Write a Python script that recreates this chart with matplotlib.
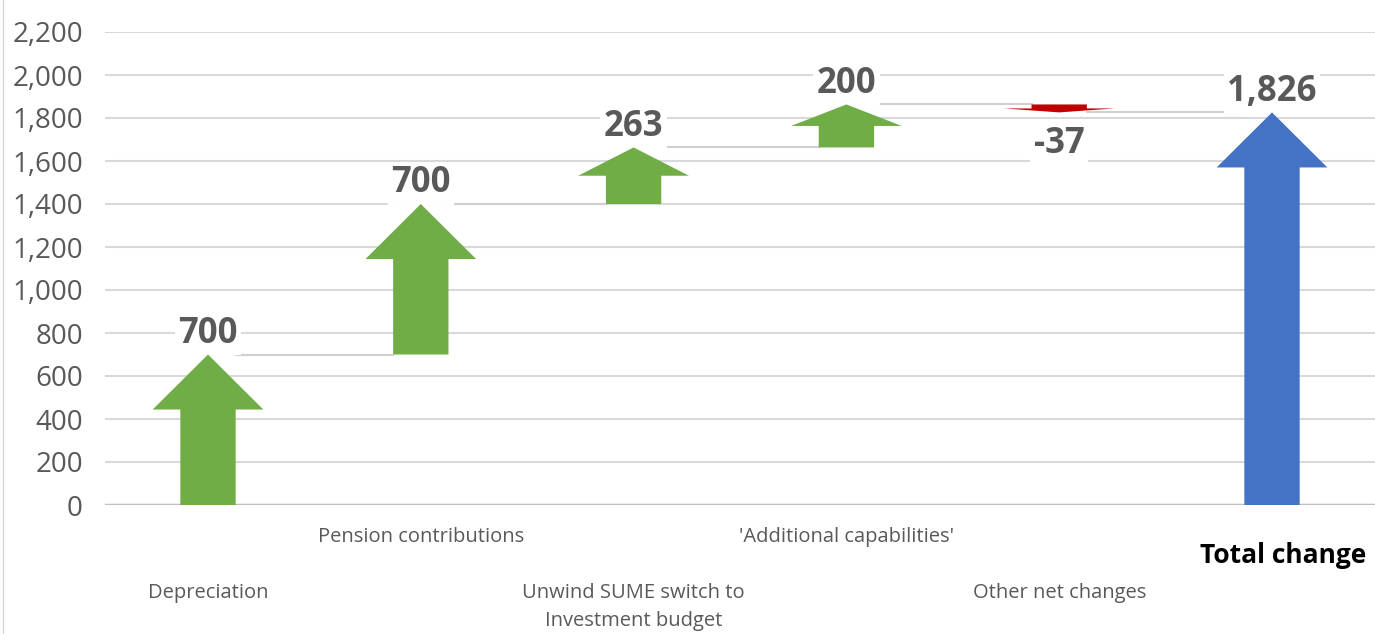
import matplotlib
matplotlib.use('Agg')
import matplotlib.pyplot as plt
from matplotlib.patches import FancyArrow
from matplotlib.lines import Line2D
import numpy as np

categories = ['Depreciation', 'Pension contributions',
              'Unwind SUME switch to\nInvestment budget',
              "'Additional capabilities'", 'Other net changes', 'Total change']
changes = [700, 700, 263, 200, -37]
total = 1826
value_labels = ['700', '700', '263', '200', '-37', '1,826']

plt.rcParams['font.family'] = ['Open Sans', 'DejaVu Sans']

green = '#70ad47'
red = '#c00000'
blue = '#4472c4'
grey_txt = '#595959'

fig = plt.figure(figsize=(13.75, 6.34), dpi=100)
ax = fig.add_axes([105 / 1375, 1 - 505 / 634, 1 - 105 / 1375, (505 - 32) / 634])

ax.set_xlim(-0.484, 5.484)
ax.set_ylim(0, 2200)
ax.set_yticks(np.arange(0, 2201, 200))
ax.set_yticklabels([f'{v:,}' for v in range(0, 2201, 200)])
ax.tick_params(axis='y', length=0, labelsize=20, labelcolor=grey_txt, pad=16)
ax.set_xticks([])
for s in ax.spines.values():
    s.set_visible(False)
ax.grid(axis='y', color='#d9d9d9', lw=1.5, zorder=0)
ax.set_axisbelow(True)
ax.axhline(0, color='#bfbfbf', lw=2.5, zorder=1)

shaft_w = 0.26
head_w = 0.52


def draw_arrow(x, start, end, color):
    length = end - start
    hl = min(256, abs(length) / 2)
    ax.add_patch(FancyArrow(x, start, 0, length, width=shaft_w, head_width=head_w,
                            head_length=hl, length_includes_head=True,
                            color=color, lw=0, zorder=3))


starts = np.concatenate([[0], np.cumsum(changes)[:-1]])
ends = np.cumsum(changes)
for i, (s, e) in enumerate(zip(starts, ends)):
    draw_arrow(i, s, e, green if e > s else red)
    # connector to next step
    ax.plot([i + shaft_w / 2, i + 1 - shaft_w / 2], [e, e], color='#d0d0d0', lw=1.5, zorder=2)
draw_arrow(5, 0, total, blue)

tips = list(ends) + [total]
for i, lab in enumerate(value_labels):
    if i < 5 and changes[i] < 0:
        y, off, va = tips[i], -10, 'top'
    else:
        y, off, va = tips[i], 2, 'bottom'
    ax.annotate(lab, (i, y), xytext=(0, off), textcoords='offset points',
                ha='center', va=va, fontsize=25, fontweight='bold', color=grey_txt,
                bbox=dict(boxstyle='square,pad=0.1', fc='white', ec='none'), zorder=2.5)

trans = ax.get_xaxis_transform()
label_y = [-0.165, -0.047, -0.165, -0.047, -0.165]
for i in range(5):
    ax.text(i, label_y[i], categories[i], transform=trans, ha='center', va='top',
            fontsize=14.5, color=grey_txt, linespacing=1.55)
ax.text(5.05, -0.106, categories[5], transform=trans, ha='center', va='center',
        fontsize=19, fontweight='bold', color='black')

fig.add_artist(Line2D([3 / 1375, 3 / 1375], [0, 1], color='#d9d9d9', lw=1))

fig.savefig('out.png', dpi=100)
